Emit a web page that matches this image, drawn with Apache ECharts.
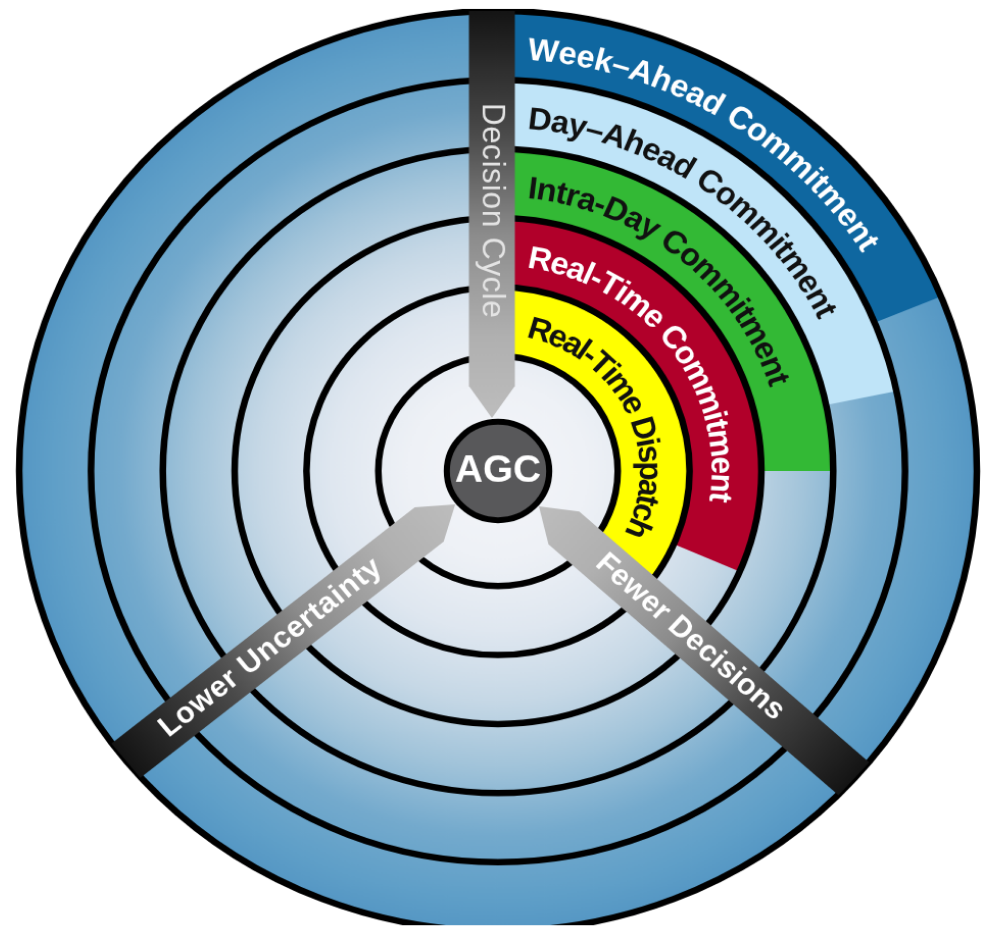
<!DOCTYPE html>
<html>
<head>
<meta charset="utf-8">
<title>Decision Cycle</title>
<script src="https://cdn.jsdelivr.net/npm/echarts/dist/echarts.min.js"></script>
<style>
html,body{margin:0;padding:0;background:#fff;overflow:hidden;}
#stage{width:992px;height:934px;overflow:hidden;position:relative;background:#fff;}
#chart{width:992px;height:934px;transform-origin:498px 471px;transform:scale(1.021,0.981);}
</style>
</head>
<body>
<div id="stage"><div id="chart"></div></div>
<script>
// ---------------- data ----------------
// radius axis: 0..100 (% of outer ring); angle axis: math degrees (0 = 3 o'clock, counter-clockwise)
const bandNames = ['Real-Time Dispatch', 'Real-Time Commitment', 'Intra-Day Commitment', 'Day\u2013Ahead Commitment', 'Week\u2013Ahead Commitment'];
const bandInner = [25, 40, 55, 70, 85];
const bandOuter = [40, 55, 70, 85, 100];
const bandStartAngle = [90, 90, 90, 90, 90];
const bandEndAngle = [-35, -23.4, 0, 11.8, 22.3];
const labelStartAngle = [78.5, 82.2, 84.1, 85.3, 86.1];
const labelEndAngle = [-27, -8.4, 17.7, 26.1, 31.9];
const ringLevels = [25, 40, 55, 70, 85, 100];
const arrowNames = ['Decision Cycle', 'Lower Uncertainty', 'Fewer Decisions'];
const arrowAngle = [90, 219, 318];
const arrowTextFrom = [80, 90, 28.6];
const arrowTextTo = [33.3, 32.2, 79.3];
const centerLabel = ['AGC'];
const centerRadius = [10.7];

// ---------------- styles ----------------
const bandColors = ['#ffff00', '#b1002a', '#33b935', '#bfe4f8', '#0f67a0'];
const labelColors = ['#111111', '#ffffff', '#111111', '#111111', '#ffffff'];
const arrowTextColors = ['#e4e4e4', '#ffffff', '#ffffff'];
const ARROW_SHIFT = [-6, 0, 0];
const ARROW_WIDTH = 45;
const ARROW_TAIL = 100, ARROW_HEAD_BASE = 18.5, ARROW_TIP = 11.5;
const LABEL_INSET = 1;
const BAND_FONT = 'bold 32px "Liberation Sans", Arial, sans-serif';
const ARROW_FONTS = ['32px "Liberation Sans", Arial, sans-serif',
  'bold 30px "Liberation Sans", Arial, sans-serif', 'bold 30px "Liberation Sans", Arial, sans-serif'];
const AGC_FONT = 'bold 38px "Liberation Sans", Arial, sans-serif';
const ARROW_STOPS = [
  {offset: 0, color: '#141414'}, {offset: 0.3, color: '#4a4a4a'},
  {offset: 0.55, color: '#8c8c8c'}, {offset: 0.8, color: '#b0b0b0'}, {offset: 1, color: '#bdbdbd'}
];
const DISC_STOPS = [
  {offset: 0, color: '#f4f6fa'}, {offset: 0.19, color: '#eef1f6'}, {offset: 0.35, color: '#dfe7f0'},
  {offset: 0.5, color: '#c6d8e6'}, {offset: 0.64, color: '#a2c4da'}, {offset: 0.79, color: '#74aacd'},
  {offset: 0.93, color: '#5f9fc8'}, {offset: 1, color: '#5597c4'}
];

// ---------------- helpers ----------------
const mctx = document.createElement('canvas').getContext('2d');
function textWidth(s, font) { mctx.font = font; return mctx.measureText(s).width; }
function norm(a) { return ((a % 360) + 360) % 360; }
function pt(api, r, a) { return api.coord([r, norm(a)]); }
function radPx(api, r) { const c = pt(api, 0, 0), e = pt(api, r, 0); return Math.hypot(e[0] - c[0], e[1] - c[1]); }
function layoutChars(text, font, lengthPx) {
  const chars = Array.from(text);
  const ws = chars.map(ch => textWidth(ch, font));
  const total = ws.reduce((s, w) => s + w, 0);
  const gap = chars.length > 1 ? (lengthPx - total) / (chars.length - 1) : 0;
  const out = []; let s = 0;
  ws.forEach((w, i) => { out.push({ch: chars[i], d: s + w / 2}); s += w + gap; });
  return out;
}
function txt(x, y, rot, ch, font, color) {
  return {type: 'text', x: x, y: y, rotation: rot,
    style: {text: ch, font: font, fill: color, textAlign: 'center', textVerticalAlign: 'middle'}};
}

// ---------------- renderers ----------------
function renderDisc(params, api) {
  const c = pt(api, 0, 0), r = radPx(api, api.value(0));
  return {type: 'circle', shape: {cx: c[0], cy: c[1], r: r},
    style: {fill: new echarts.graphic.RadialGradient(0.5, 0.5, 0.5, DISC_STOPS)}};
}
function renderBand(params, api) {
  const i = params.dataIndex;
  const c = pt(api, 0, 0);
  const r0 = radPx(api, api.value(0)), r1 = radPx(api, api.value(1));
  const a0 = api.value(2), a1 = api.value(3);
  return {type: 'sector', shape: {cx: c[0], cy: c[1], r0: r0, r: r1,
      startAngle: -a0 * Math.PI / 180, endAngle: -a1 * Math.PI / 180, clockwise: true},
    style: {fill: bandColors[i]}};
}
function renderRing(params, api) {
  const c = pt(api, 0, 0), r = radPx(api, api.value(0));
  return {type: 'circle', shape: {cx: c[0], cy: c[1], r: r},
    style: {fill: 'none', stroke: '#000', lineWidth: 6.5}};
}
function renderBandLabel(params, api) {
  const i = params.dataIndex;
  const rPct = api.value(0), a0 = api.value(1), a1 = api.value(2);
  const rpx = radPx(api, rPct);
  const arcLen = rpx * (a0 - a1) * Math.PI / 180;
  const children = [];
  layoutChars(bandNames[i], BAND_FONT, arcLen).forEach(o => {
    if (o.ch === ' ') return;
    const ang = a0 - o.d / rpx * 180 / Math.PI;
    const p = pt(api, rPct, ang);
    children.push(txt(p[0], p[1], (ang - 90) * Math.PI / 180, o.ch, BAND_FONT, labelColors[i]));
  });
  return {type: 'group', children: children};
}
function arrowFrame(api, i, ang) {
  const c = pt(api, 0, 0);
  const far = pt(api, 100, ang);
  const L = Math.hypot(far[0] - c[0], far[1] - c[1]);
  const u = [(far[0] - c[0]) / L, (far[1] - c[1]) / L];
  const n = [-u[1], u[0]];
  const s = ARROW_SHIFT[i];
  return {at: (r, off) => [c[0] + u[0] * r + n[0] * (s + off), c[1] + u[1] * r + n[1] * (s + off)]};
}
function renderArrow(params, api) {
  const i = params.dataIndex, ang = api.value(1);
  const f = arrowFrame(api, i, ang);
  const rTail = radPx(api, ARROW_TAIL), rBase = radPx(api, ARROW_HEAD_BASE), rTip = radPx(api, ARROW_TIP);
  const hw = ARROW_WIDTH / 2;
  const pts = [f.at(rTail, -hw), f.at(rTail, hw), f.at(rBase, hw), f.at(rTip, 0), f.at(rBase, -hw)];
  const t0 = f.at(rTail, 0), t1 = f.at(rTip, 0);
  return {type: 'polygon', shape: {points: pts},
    style: {fill: new echarts.graphic.LinearGradient(t0[0], t0[1], t1[0], t1[1], ARROW_STOPS, true)}};
}
function renderArrowLabel(params, api) {
  const i = params.dataIndex, ang = api.value(1);
  const f = arrowFrame(api, i, ang);
  const p0 = f.at(radPx(api, api.value(2)), 0), p1 = f.at(radPx(api, api.value(3)), 0);
  const len = Math.hypot(p1[0] - p0[0], p1[1] - p0[1]);
  const dx = (p1[0] - p0[0]) / len, dy = (p1[1] - p0[1]) / len;
  const rot = Math.atan2(-dy, dx);
  const children = [];
  layoutChars(arrowNames[i], ARROW_FONTS[i], len).forEach(o => {
    if (o.ch === ' ') return;
    children.push(txt(p0[0] + dx * o.d, p0[1] + dy * o.d, rot, o.ch, ARROW_FONTS[i], arrowTextColors[i]));
  });
  return {type: 'group', children: children};
}
function renderCenter(params, api) {
  const c = pt(api, 0, 0), r = radPx(api, api.value(0));
  return {type: 'group', children: [
    {type: 'circle', shape: {cx: c[0], cy: c[1], r: r}, style: {fill: '#58585a', stroke: '#000', lineWidth: 6}},
    txt(c[0], c[1] + 1, 0, centerLabel[0], AGC_FONT, '#ffffff')
  ]};
}

// ---------------- chart ----------------
const chart = echarts.init(document.getElementById('chart'));
const base = {type: 'custom', coordinateSystem: 'polar', silent: true, animation: false, clip: false};
chart.setOption({
  animation: false,
  backgroundColor: '#ffffff',
  polar: {center: [498, 471], radius: 469},
  angleAxis: {type: 'value', min: 0, max: 360, startAngle: 0, clockwise: false, show: false,
    axisLine: {show: false}, axisTick: {show: false}, axisLabel: {show: false}, splitLine: {show: false}},
  radiusAxis: {type: 'value', min: 0, max: 100, show: false,
    axisLine: {show: false}, axisTick: {show: false}, axisLabel: {show: false}, splitLine: {show: false}},
  series: [
    Object.assign({}, base, {z: 1, data: [[100, 0]], renderItem: renderDisc}),
    Object.assign({}, base, {z: 2, data: bandNames.map((n, i) => [bandInner[i], bandOuter[i], bandStartAngle[i], bandEndAngle[i]]),
      encode: {radius: [0, 1], angle: [2, 3]}, renderItem: renderBand}),
    Object.assign({}, base, {z: 3, data: ringLevels.map(r => [r, 0]), renderItem: renderRing}),
    Object.assign({}, base, {z: 4, data: bandNames.map((n, i) => [(bandInner[i] + bandOuter[i]) / 2 - LABEL_INSET, labelStartAngle[i], labelEndAngle[i]]),
      encode: {radius: 0, angle: [1, 2]}, renderItem: renderBandLabel}),
    Object.assign({}, base, {z: 5, data: arrowNames.map((n, i) => [ARROW_TAIL, arrowAngle[i]]), renderItem: renderArrow}),
    Object.assign({}, base, {z: 6, data: arrowNames.map((n, i) => [50, arrowAngle[i], arrowTextFrom[i], arrowTextTo[i]]),
      encode: {radius: 0, angle: 1}, renderItem: renderArrowLabel}),
    Object.assign({}, base, {z: 7, data: [[centerRadius[0], 0]], renderItem: renderCenter})
  ]
});
</script>
</body>
</html>
